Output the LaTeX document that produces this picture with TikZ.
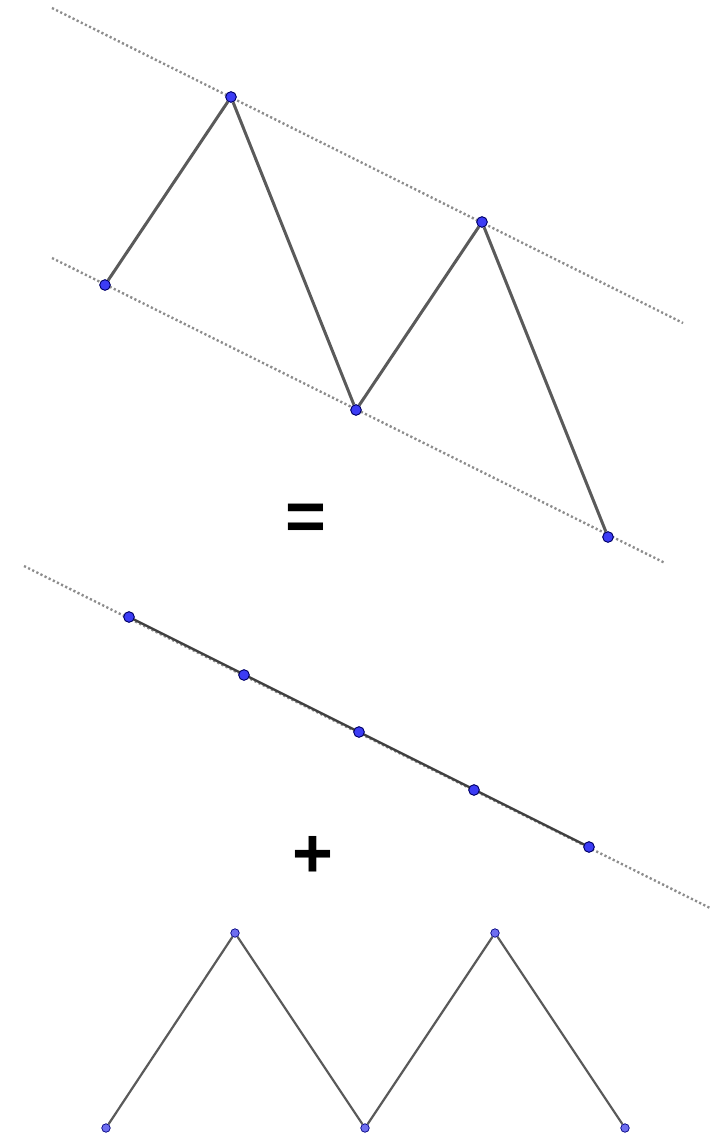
\documentclass[tikz,border=0pt]{standalone}
\usepackage{fontspec}
\setsansfont{Liberation Sans}
\begin{document}
\begin{tikzpicture}[x=1pt,y=-1pt,
  pt/.style={circle,draw=black!60!blue,line width=0.8pt,fill=ptblue,inner sep=0pt,minimum size=10.5pt},
  spt/.style={circle,draw=black!50!blue,line width=0.7pt,fill=ptlight,inner sep=0pt,minimum size=8.5pt},
  seg/.style={draw=segcol,line width=3pt},
  sseg/.style={draw=segcol,line width=2.2pt},
  guide/.style={draw=guidecol,line width=2.4pt,dash pattern=on 2.2pt off 2.4pt},
  sym/.style={font=\sffamily\bfseries\fontsize{70}{70}\selectfont,inner sep=0pt}]
\definecolor{ptblue}{RGB}{60,60,245}
\definecolor{ptlight}{RGB}{110,110,240}
\definecolor{segcol}{RGB}{90,90,90}
\definecolor{guidecol}{RGB}{140,140,140}
\useasboundingbox (0,0) rectangle (718,1134);
% top channel
\coordinate (u1) at (52,8);
\coordinate (u2) at (683,323);
\coordinate (l1) at (52,258);
\coordinate (l2) at (665,563);
\draw[guide] (u1) -- (u2);
\draw[guide] (l1) -- (l2);
\node[pt] (A) at (105,285) {};
\node[pt] (B) at (231,97) {};
\node[pt] (C) at (356,410) {};
\node[pt] (D) at (482,222) {};
\node[pt] (E) at (608,537) {};
\draw[seg] (A) -- (B) -- (C) -- (D) -- (E);
\foreach \n in {A,B,C,D,E} \node[pt] at (\n) {};
\node[sym] (eq) at (306,522) {=};
% middle line
\coordinate (m1) at (24,566);
\coordinate (m2) at (710,908);
\draw[guide] (m1) -- (m2);
\node[pt] (P1) at (129,617) {};
\node[pt] (P2) at (244,675) {};
\node[pt] (P3) at (359,732) {};
\node[pt] (P4) at (474,790) {};
\node[pt] (P5) at (589,847) {};
\draw[seg,line width=2.4pt,draw=black!75] (P1.center) -- (P5.center);
\foreach \n in {P1,P2,P3,P4,P5} \node[pt] at (\n) {};
\node[sym] (plus) at (313,857) {+};
% bottom zigzag
\node[spt] (Z1) at (106,1128) {};
\node[spt] (Z2) at (235,933) {};
\node[spt] (Z3) at (365,1128) {};
\node[spt] (Z4) at (495,933) {};
\node[spt] (Z5) at (625,1128) {};
\draw[sseg] (Z1) -- (Z2) -- (Z3) -- (Z4) -- (Z5);
\end{tikzpicture}
\end{document}
